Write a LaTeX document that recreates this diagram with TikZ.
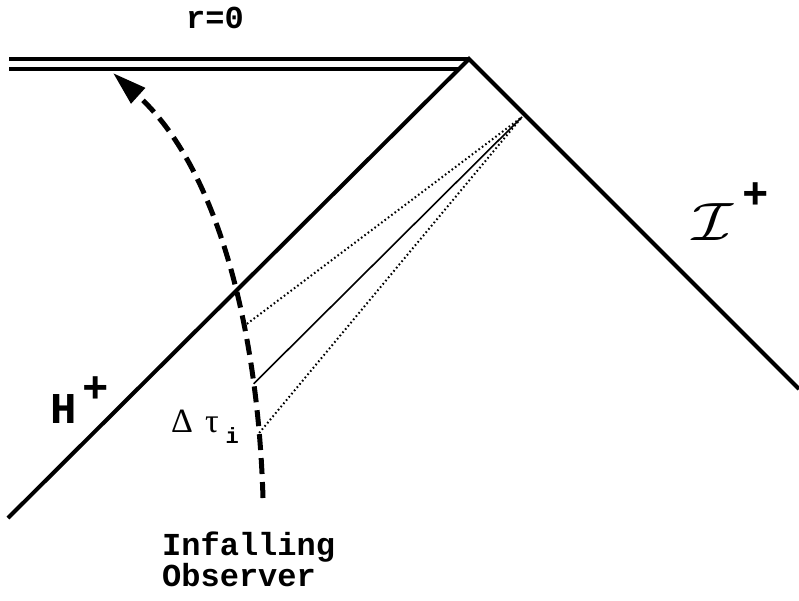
\documentclass[tikz,border=0pt]{standalone}
\usepackage{fontspec}
\setmonofont{Liberation Mono}
\newfontfamily\greekfont{Liberation Serif}
\usetikzlibrary{arrows.meta}

\begin{document}
\begin{tikzpicture}[x=1pt, y=-1pt,
  edge/.style={line width=4pt},
  sing/.style={line width=3.5pt},
  observer/.style={line width=5pt, dash pattern=on 16pt off 8pt, -{Triangle[length=34pt, width=20pt]}},
  ray/.style={line width=1.6pt},
  dotray/.style={line width=2pt, dash pattern=on 1.6pt off 2.6pt},
  label/.style={inner sep=0, anchor=base west, font=\fontsize{32}{31}\selectfont\ttfamily\bfseries}
]
\useasboundingbox (0,0) rectangle (799,600);

% corners of the diagram
\coordinate (apex) at (469,59);
\coordinate (singtop) at (9,59);
\coordinate (singbot) at (9,69);
\coordinate (singend) at (459,69);
\coordinate (hbot) at (8,518);
\coordinate (scribot) at (799,389);
\coordinate (scripoint) at (522,117);

% r=0, horizon and null infinity
\draw[sing] (singtop) -- (apex);
\draw[sing] (singbot) -- (singend);
\draw[edge] (hbot) -- (apex) -- (scribot);

% infalling observer
\draw[observer] (263,498) .. controls (258,330) and (218,168) .. (113,73)
  coordinate[pos=0.13] (obsA)
  coordinate[pos=0.23] (obsB)
  coordinate[pos=0.35] (obsC);

% light rays
\draw[dotray] (obsC) -- (scripoint);
\draw[ray] (obsB) -- (scripoint);
\draw[dotray] (obsA) -- (scripoint);

% labels
\node[label] (rzero) at (186,28) {r=0};
\node[label, font=\fontsize{44}{44}\selectfont\ttfamily\bfseries] (hplus) at (50,423) {H\hspace{6pt}\raisebox{21pt}{\fontsize{44}{44}\selectfont +}};
\node[inner sep=0, anchor=base west] (scri) at (692,240) {\scalebox{6.6}[5.4]{$\mathcal{I}$}\hspace{9pt}\raisebox{32pt}{\fontsize{44}{44}\selectfont\ttfamily\bfseries +}};
\node[inner sep=0, anchor=base west, font=\fontsize{34}{34}\selectfont\greekfont] (dtau) at (171,432) {Δ\hspace{12pt}τ\hspace{7pt}\raisebox{-11pt}{\fontsize{22}{22}\selectfont\ttfamily\bfseries i}};
\node[label, align=left, anchor=north west] (obslabel) at (162,532) {Infalling\\Observer};
\end{tikzpicture}
\end{document}
